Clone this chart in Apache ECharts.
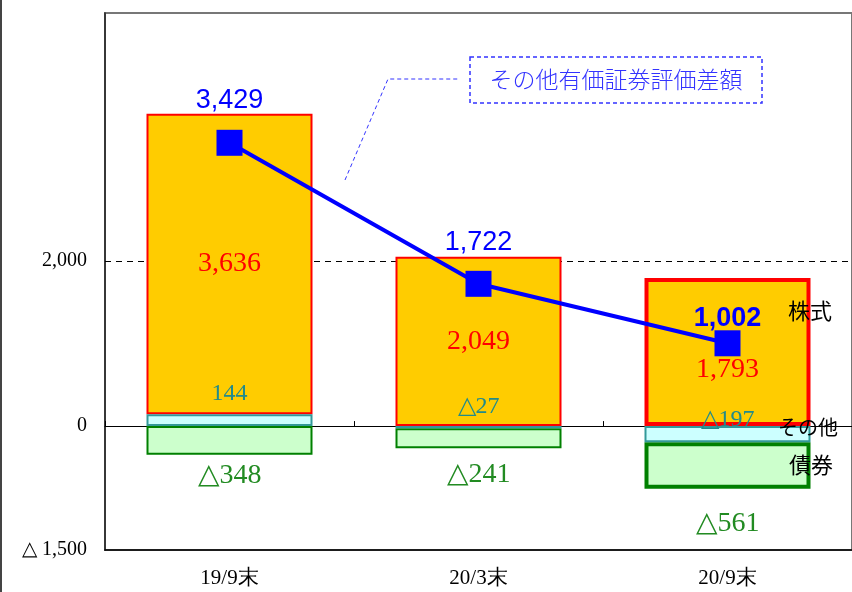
<!DOCTYPE html>
<html>
<head>
<meta charset="utf-8">
<script src="https://cdn.jsdelivr.net/npm/echarts@6/dist/echarts.min.js"></script>
<style>
html, body { margin: 0; padding: 0; background: #fff; }
#chart { width: 852px; height: 592px; }
</style>
</head>
<body>
<div id="chart"></div>
<script>
// data
const categories = ['19/9末', '20/3末', '20/9末'];
const stockValues = [3636, 2049, 1793];   // 株式
const otherValues = [144, -27, -197];     // その他
const bondValues = [-348, -241, -561];    // 債券
const totalValues = [3429, 1722, 1002];   // その他有価証券評価差額
const yTickLabels = { '-1500': '△ 1,500', '0': '0', '2000': '2,000' };

function fmt(v) {
    let s = Math.abs(v).toLocaleString('en-US');
    return v < 0 ? '△' + s : s;
}

const chart = echarts.init(document.getElementById('chart'));
const serif = 'Liberation Serif';
const cjk = 'Noto Sans CJK JP';
const last = categories.length - 1;

const option = {
    animation: false,
    backgroundColor: '#fff',
    grid: {
        left: 105, top: 13, width: 749, height: 537,
        show: true, borderColor: '#777', borderWidth: 2
    },
    xAxis: [
        {
            type: 'category', data: categories, position: 'bottom',
            axisLine: { onZero: false, lineStyle: { color: '#000', width: 1.5 } },
            axisTick: { show: false },
            axisLabel: { color: '#000', fontFamily: serif, fontSize: 21, margin: 18 }
        },
        {
            type: 'category', data: categories, position: 'top',
            axisLine: { onZero: true, lineStyle: { color: '#000', width: 1 } },
            axisTick: { show: true, inside: false, length: 5, lineStyle: { color: '#000' } },
            axisLabel: { show: false }
        }
    ],
    yAxis: {
        type: 'value', min: -1500, max: 5000, interval: 500,
        axisLine: { show: true, lineStyle: { color: '#222', width: 1.5 } },
        axisTick: { show: false },
        splitLine: { show: false },
        axisLabel: {
            color: '#000', fontFamily: serif, fontSize: 20, margin: 18,
            formatter: v => yTickLabels[String(v)] || ''
        }
    },
    series: [
        {
            name: 'その他', type: 'bar', stack: 'a', barWidth: 166, z: 3,
            data: otherValues.map((v, i) => ({
                value: v,
                label: { offset: [0, [-3, -2.5, 10.5][i]] }
            })),
            itemStyle: { color: '#CCFFFF', borderColor: '#339999', borderWidth: 2 },
            label: {
                show: true, position: 'top', color: '#228B8B',
                fontFamily: serif, fontSize: 24, formatter: p => fmt(p.value)
            },
            markLine: {
                z: 1, silent: true, symbol: 'none',
                lineStyle: { color: '#000', type: [6, 5], width: 1 },
                label: { show: false },
                data: [{ yAxis: 2000 }]
            }
        },
        {
            name: '株式', type: 'bar', stack: 'a', barWidth: 166, z: 2,
            data: stockValues.map((v, i) => ({
                value: v,
                itemStyle: { borderWidth: i === last ? 4 : 2 },
                label: { offset: [0, i === last ? 18 : 0] }
            })),
            itemStyle: { color: '#FFCC00', borderColor: '#FF0000' },
            label: {
                show: true, position: 'inside', color: '#FF0000',
                fontFamily: serif, fontSize: 28, formatter: p => fmt(p.value)
            }
        },
        {
            name: '債券', type: 'bar', stack: 'a', barWidth: 166, z: 2,
            data: bondValues.map((v, i) => ({
                value: v,
                itemStyle: { borderWidth: i === last ? 4 : 2 },
                label: { offset: [0, [1.5, 7.5, 16][i]] }
            })),
            itemStyle: { color: '#CCFFCC', borderColor: '#008000' },
            label: {
                show: true, position: 'bottom', color: '#228B22',
                fontFamily: serif, fontSize: 28, formatter: p => fmt(p.value)
            }
        },
        {
            name: 'その他有価証券評価差額', type: 'line', z: 5,
            data: totalValues.map((v, i) => ({
                value: v,
                label: { offset: [0, [-10.5, -9.5, 6.5][i]], fontWeight: i === last ? 'bold' : 'normal' }
            })),
            symbol: 'rect', symbolSize: 26,
            lineStyle: { color: '#0000FF', width: 4 },
            itemStyle: { color: '#0000FF' },
            label: {
                show: true, position: 'top', color: '#0000FF',
                fontFamily: 'Liberation Sans', fontSize: 27,
                formatter: p => fmt(p.value)
            }
        }
    ],
    graphic: [
        { type: 'line', shape: { x1: 1, y1: 0, x2: 1, y2: 592 }, style: { stroke: '#444', lineWidth: 2 } },
        {
            type: 'rect', shape: { x: 470, y: 57, width: 292, height: 46 },
            style: { fill: 'none', stroke: '#3333FF', lineWidth: 1.5, lineDash: [4, 3] }
        },
        {
            type: 'text', x: 616, y: 79,
            style: {
                text: 'その他有価証券評価差額', fill: '#3333FF', fontSize: 23,
                fontFamily: cjk, fontWeight: 300, align: 'center', verticalAlign: 'middle'
            }
        },
        {
            type: 'polyline', shape: { points: [[345, 180], [388, 79], [458, 79]] },
            style: { fill: 'none', stroke: '#3333FF', lineWidth: 1, lineDash: [4, 3] }
        },
        {
            type: 'text', x: 810, y: 311, z: 10,
            style: { text: '株式', fill: '#000', fontSize: 22, fontFamily: cjk, align: 'center', verticalAlign: 'middle' }
        },
        {
            type: 'text', x: 808, y: 427, z: 10,
            style: { text: 'その他', fill: '#000', fontSize: 20, fontFamily: cjk, align: 'center', verticalAlign: 'middle' }
        },
        {
            type: 'text', x: 811, y: 465, z: 10,
            style: { text: '債券', fill: '#000', fontSize: 22, fontFamily: cjk, align: 'center', verticalAlign: 'middle' }
        }
    ]
};

chart.setOption(option);
</script>
</body>
</html>
